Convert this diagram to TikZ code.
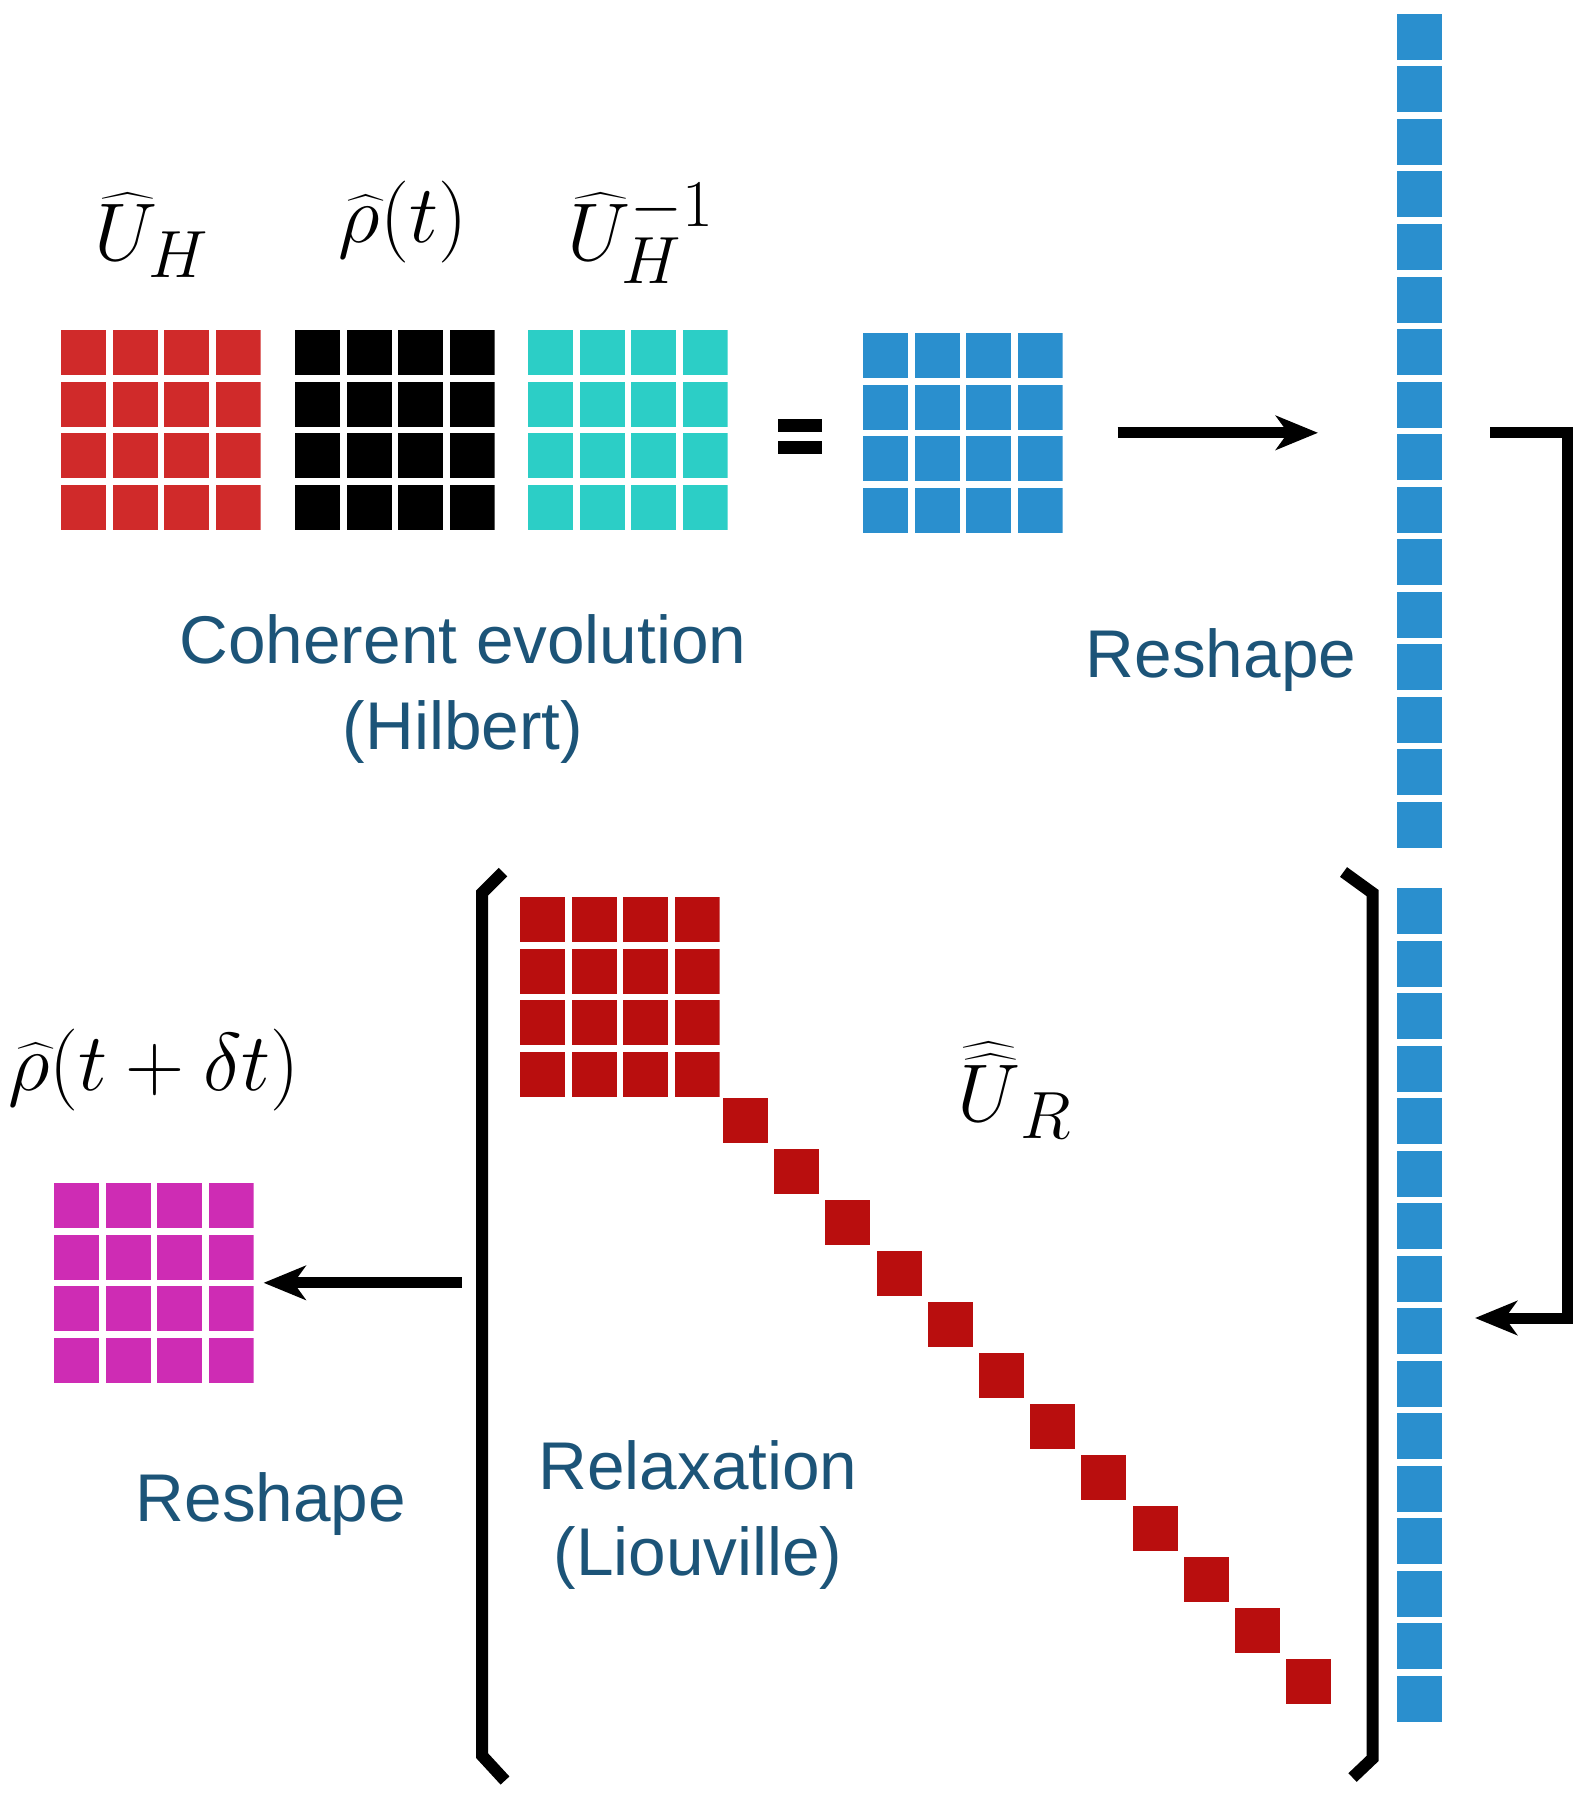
\RequirePackage{fix-cm}
\documentclass[tikz,border=0pt]{standalone}
\usepackage{fontspec}
\setsansfont{Liberation Sans}
\usetikzlibrary{arrows.meta}
\DeclareMathSizes{23.3}{23.3}{19}{14}
\definecolor{cRed}{RGB}{208,42,42}
\definecolor{cCyan}{RGB}{44,206,198}
\definecolor{cBlue}{RGB}{42,143,206}
\definecolor{cDark}{RGB}{185,14,14}
\definecolor{cMag}{RGB}{206,44,180}
\definecolor{cText}{RGB}{28,84,120}
\tikzset{
  mat/.style={minimum width=1.995cm, minimum height=1.995cm, inner sep=0pt, outer sep=0pt, anchor=north west,
    path picture={\foreach \i in {0,...,3}{\foreach \j in {0,...,3}{
      \fill[#1] ([shift={(\i*51.5,\j*51.5)}]path picture bounding box.north west) rectangle ++(45,45);}}}},
  vec/.style={minimum width=0.45cm, minimum height=8.335cm, inner sep=0pt, outer sep=0pt, anchor=north west,
    path picture={\foreach \j in {0,...,15}{
      \fill[#1] ([shift={(0,\j*52.5)}]path picture bounding box.north west) rectangle ++(45,46);}}},
  diagcell/.style={fill=cDark},
  box/.style={inner sep=0pt, outer sep=0pt, anchor=north west},
  arr/.style={line width=0.11cm, line join=miter, -{Stealth[length=0.42cm, width=0.34cm, inset=0.12cm]}},
  brk/.style={line width=0.12cm, line join=miter},
  lbl/.style={font=\fontsize{19.2pt}{24.2pt}\selectfont\sffamily, text=cText, align=center, inner sep=0pt},
  mlbl/.style={font=\fontsize{23.3pt}{28pt}\selectfont, inner sep=0pt, anchor=base},
}
\begin{document}
\begin{tikzpicture}[x=0.01cm,y=-0.01cm]
\fill[white] (0,0) rectangle (1588,1800);
\useasboundingbox (0,0) rectangle (1588,1800);

% top row matrices
\node[mat=cRed] (UH) at (61,330) {};
\node[mat=black] (RHO) at (295,330) {};
\node[mat=cCyan] (UHI) at (528,330) {};
\node[box, minimum width=0.44cm, minimum height=0.35cm,
  path picture={\fill (path picture bounding box.north west) rectangle ++(44,13);
                \fill ([shift={(0,22)}]path picture bounding box.north west) rectangle ++(44,13);}] (EQ) at (778,419) {};
\node[mat=cBlue] (B) at (863,333) {};

% vector columns
\node[vec=cBlue] (V1) at (1397,14) {};
\node[vec=cBlue] (V2) at (1397,888) {};

% relaxation superoperator
\node[mat=cDark] (BLK) at (520,897) {};
\foreach \k in {0,...,11}{
  \fill[diagcell] (723+\k*51.2,1098+\k*51) rectangle ++(45,45);
}
\node[box, minimum width=8.9cm, minimum height=9.08cm] (UR) at (482,872) {};
\draw[brk] ([shift={(21,0)}]UR.north west) -- ([shift={(0,21)}]UR.north west)
  -- ([shift={(0,-25)}]UR.south west) -- ([shift={(23,0)}]UR.south west);
\draw[brk] ([shift={(-29,0)}]UR.north east) -- ([shift={(0,21)}]UR.north east)
  -- ([shift={(0,-22)}]UR.south east) -- ([shift={(-20,-3)}]UR.south east);

% result
\node[mat=cMag] (M) at (54,1183) {};

% arrows
\draw[arr] ([xshift=0.55cm]B.east) -- ([xshift=-0.79cm]B.east -| V1.west);
\draw[arr] ([xshift=0.48cm]B.east -| V1.east) -- ++(77,0) |- ([shift={(33,13)}]V2.east);
\draw[arr] ([xshift=-0.2cm]UR.west |- M.east) -- ([xshift=0.1cm]M.east);

% math labels
\node[mlbl] (lUH) at (152,260) {$\widehat{U}_H$};
\node[mlbl] (lRHO) at (403,242) {$\widehat{\rho}(t)$};
\node[mlbl] (lUHI) at (641,260) {$\widehat{U}_H^{-1}$};
\node[mlbl] (lRHO2) at (154,1090) {$\widehat{\rho}(t+\delta t)$};
\node[mlbl] (lUR) at (1015,1121) {$\widehat{\widehat{U}}_R$};

% text labels (base = baseline of the last line)
\node[lbl, anchor=base] (tCoh) at (463,749) {Coherent evolution\\(Hilbert)};
\node[lbl, anchor=base] (tRes1) at (1221,677) {Reshape};
\node[lbl, anchor=base] (tRes2) at (271,1521) {Reshape};
\node[lbl, anchor=base] (tRel) at (698,1575) {Relaxation\\(Liouville)};
\end{tikzpicture}
\end{document}
